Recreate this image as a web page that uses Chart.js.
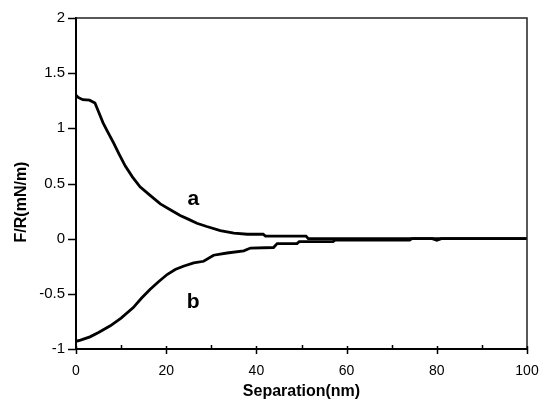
<!DOCTYPE html>
<html>
<head>
<meta charset="utf-8">
<script src="https://cdn.jsdelivr.net/npm/chart.js@4"></script>
<style>
  body { margin: 0; background: #fff; }
</style>
</head>
<body>
<canvas id="myChart" width="541" height="409"></canvas>
<script>
// separation (nm) and F/R (mN/m)
var sepA = [0, 0.5, 1.5, 3, 4.2, 5, 6, 7, 8.3, 9.5, 10.9, 12.5, 14.2, 16.5, 18.7, 21, 23.1, 25, 26.8, 29, 32, 35, 38, 41.5, 42, 51, 51.5, 100];
var forceA = [1.30, 1.28, 1.26, 1.255, 1.23, 1.15, 1.05, 0.97, 0.87, 0.77, 0.66, 0.56, 0.47, 0.39, 0.315, 0.26, 0.21, 0.175, 0.14, 0.11, 0.073, 0.05, 0.04, 0.04, 0.023, 0.023, 0, 0];

var sepB = [0, 1, 3.1, 5, 7.6, 10, 12.7, 14.5, 16.4, 18.3, 20.2, 22, 23.8, 26.1, 28.3, 30.5, 33.5, 37.2, 38.7, 43.8, 44.6, 49, 49.5, 57, 57.5, 74, 74.5, 79, 80, 81, 100];
var forceB = [-0.93, -0.92, -0.89, -0.85, -0.79, -0.72, -0.625, -0.54, -0.46, -0.39, -0.325, -0.28, -0.25, -0.22, -0.205, -0.15, -0.13, -0.11, -0.085, -0.08, -0.045, -0.045, -0.027, -0.027, -0.012, -0.012, 0, 0, -0.015, 0, 0];

var xTicks = [0, 20, 40, 60, 80, 100];
var yTicks = [-1, -0.5, 0, 0.5, 1, 1.5, 2];

function toPoints(xs, ys) {
  return xs.map(function (x, i) { return { x: x, y: ys[i] }; });
}

// ticks, frame and text labels
var extras = {
  id: 'extras',
  afterDraw: function (chart) {
    var ctx = chart.ctx;
    var area = chart.chartArea;
    var xs = chart.scales.x;
    var ys = chart.scales.y;
    ctx.save();
    ctx.strokeStyle = '#222';
    ctx.lineWidth = 1.5;
    ctx.beginPath();
    ctx.moveTo(area.left, area.top);
    ctx.lineTo(area.right, area.top);
    ctx.lineTo(area.right, area.bottom);
    ctx.stroke();

    ctx.strokeStyle = '#000';
    ctx.lineWidth = 1.5;
    ctx.beginPath();
    for (var v = 0; v <= 100; v += 10) {
      var px = Math.round(xs.getPixelForValue(v)) + 0.5;
      if (v % 20 === 0) {
        ctx.moveTo(px, area.bottom - 3);
        ctx.lineTo(px, area.bottom + 5);
      } else {
        ctx.moveTo(px, area.bottom - 4);
        ctx.lineTo(px, area.bottom);
      }
    }
    yTicks.forEach(function (t) {
      var py = Math.round(ys.getPixelForValue(t)) + 0.5;
      ctx.moveTo(area.left - 8, py);
      ctx.lineTo(area.left, py);
    });
    ctx.stroke();

    ctx.fillStyle = '#000';
    ctx.textAlign = 'center';
    ctx.textBaseline = 'middle';
    ctx.font = 'bold 16px "Liberation Sans", Arial, sans-serif';
    ctx.fillText('Separation(nm)', (area.left + area.right) / 2, 392);
    ctx.save();
    ctx.translate(22, 202);
    ctx.rotate(-Math.PI / 2);
    ctx.fillText('F/R(mN/m)', 0, 0);
    ctx.restore();

    ctx.font = 'bold 21px "Liberation Sans", Arial, sans-serif';
    ctx.fillText('a', xs.getPixelForValue(26), ys.getPixelForValue(0.36));
    ctx.fillText('b', xs.getPixelForValue(26), ys.getPixelForValue(-0.58));
    ctx.restore();
  }
};

var ctx = document.getElementById('myChart').getContext('2d');
var chart = new Chart(ctx, {
  type: 'scatter',
  data: {
    datasets: [{
      label: 'a',
      data: toPoints(sepA, forceA),
      showLine: true,
      borderColor: '#000',
      borderWidth: 2.8,
      pointRadius: 0,
      tension: 0
    }, {
      label: 'b',
      data: toPoints(sepB, forceB),
      showLine: true,
      borderColor: '#000',
      borderWidth: 2.8,
      pointRadius: 0,
      tension: 0
    }]
  },
  options: {
    responsive: false,
    animation: false,
    layout: { padding: { top: 18, right: 14, left: 0, bottom: 0 } },
    plugins: { legend: { display: false }, tooltip: { enabled: false } },
    scales: {
      x: {
        type: 'linear',
        min: 0,
        max: 100,
        afterFit: function (s) { s.height = 60; s.paddingLeft = 0; s.paddingRight = 0; },
        afterBuildTicks: function (s) { s.ticks = xTicks.map(function (v) { return { value: v }; }); },
        grid: { display: false, drawTicks: false },
        border: { display: true, color: '#000', width: 2 },
        ticks: {
          padding: 14,
          color: '#000',
          font: { family: '"Liberation Sans", Arial, sans-serif', size: 14 },
          callback: function (v) { return String(v); }
        }
      },
      y: {
        type: 'linear',
        min: -1,
        max: 2,
        afterFit: function (s) { s.width = 76; s.paddingTop = 0; s.paddingBottom = 0; },
        afterBuildTicks: function (s) { s.ticks = yTicks.map(function (v) { return { value: v }; }); },
        grid: { display: false, drawTicks: false },
        border: { display: true, color: '#000', width: 2 },
        ticks: {
          padding: 11,
          color: '#000',
          font: { family: '"Liberation Sans", Arial, sans-serif', size: 15 },
          callback: function (v) { return String(v); }
        }
      }
    }
  },
  plugins: [extras]
});
</script>
</body>
</html>
